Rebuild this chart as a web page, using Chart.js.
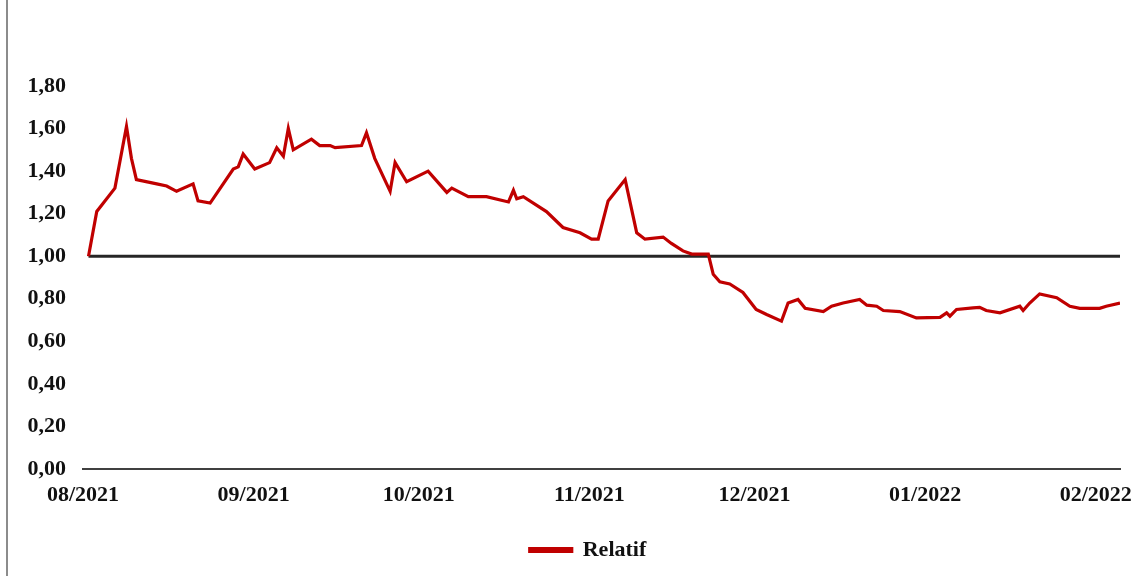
<!DOCTYPE html>
<html lang="fr">
<head>
  <meta charset="UTF-8">
  <title>Relatif</title>
  <script src="https://cdn.jsdelivr.net/npm/chart.js"></script>
  <style>
    html, body {
      margin: 0;
      padding: 0;
      background: #fff;
    }
    .frame {
      position: relative;
      width: 1141px;
      height: 576px;
    }
    .frame::before {
      content: "";
      position: absolute;
      left: 6px;
      top: 0;
      bottom: 0;
      border-left: 2px solid #8c8c8c;
    }
    canvas {
      position: absolute;
      left: 0;
      top: 0;
    }
  </style>
</head>
<body>
<div class="frame"><canvas id="chart" width="1141" height="576"></canvas></div>

<script>
// days counted from 01/08/2021
const days = [1, 2.5, 5.8, 7.9, 8.8, 9.7, 13.4, 15.2, 17.0, 20.0, 20.9, 23.1,
  27.3, 28.2, 29.1, 31.2, 33.9, 35.2, 36.4, 37.3, 38.2, 41.5, 43.0, 44.9,
  45.8, 50.6, 51.5, 53.0, 55.8, 56.7, 58.8, 62.7, 66.1, 67.0, 70.0, 73.3,
  77.3, 78.2, 78.8, 80.0, 84.2, 87.2, 90.3, 92.4, 93.6, 95.4, 98.5, 100.6,
  102.1, 105.4, 106.9, 109.0, 110.6, 113.6, 114.5, 115.7, 117.5, 119.9, 122.3, 124.2,
  126.9, 128.1, 129.9, 131.2, 134.5, 136.0, 138.1, 141.1, 142.4, 144.2, 145.4, 148.4,
  151.4, 155.7, 156.9, 157.5, 158.7, 161.7, 162.9, 164.1, 166.6, 170.2, 170.8, 172.0,
  173.8, 176.9, 179.3, 181.1, 184.7, 185.9, 188.4];

const relatif = [1.00, 1.21, 1.32, 1.61, 1.46, 1.36, 1.34, 1.33, 1.305, 1.34, 1.26, 1.25,
  1.41, 1.42, 1.48, 1.41, 1.44, 1.51, 1.47, 1.60, 1.50, 1.55, 1.52, 1.52,
  1.51, 1.52, 1.58, 1.46, 1.305, 1.44, 1.35, 1.40, 1.30, 1.32, 1.28, 1.28,
  1.255, 1.31, 1.27, 1.28, 1.21, 1.135, 1.11, 1.08, 1.08, 1.26, 1.36, 1.11,
  1.08, 1.09, 1.06, 1.025, 1.01, 1.01, 0.915, 0.88, 0.87, 0.83, 0.75, 0.726,
  0.695, 0.78, 0.797, 0.755, 0.74, 0.765, 0.78, 0.797, 0.77, 0.765, 0.745, 0.74,
  0.71, 0.713, 0.734, 0.718, 0.75, 0.757, 0.76, 0.745, 0.734, 0.765, 0.745, 0.78,
  0.823, 0.805, 0.765, 0.755, 0.755, 0.765, 0.78];

const refLevel = 1.00;

const monthTicks = [0, 31, 61, 92, 122, 153, 184];
const monthLabels = ["08/2021", "09/2021", "10/2021", "11/2021", "12/2021", "01/2022", "02/2022"];

const serif = "'Liberation Serif', 'Times New Roman', serif";
Chart.defaults.font.family = serif;
Chart.defaults.font.weight = "bold";
Chart.defaults.font.size = 22;
Chart.defaults.color = "#111";

const points = days.map((d, i) => ({ x: d, y: relatif[i] }));
const refPoints = [
  { x: days[0], y: refLevel },
  { x: days[days.length - 1], y: refLevel }
];

// legend sits a bit right of the canvas centre in the original
const shiftLegend = {
  id: "shiftLegend",
  afterLayout(chart) {
    chart.legend.left += 28;
    chart.legend.right += 28;
  }
};

new Chart(document.getElementById("chart"), {
  type: "line",
  data: {
    datasets: [
      {
        label: "Relatif",
        data: points,
        borderColor: "#c00000",
        backgroundColor: "#c00000",
        borderWidth: 3.2,
        pointRadius: 0,
        tension: 0
      },
      {
        label: "ref",
        data: refPoints,
        borderColor: "#262626",
        borderWidth: 3,
        pointRadius: 0
      }
    ]
  },
  plugins: [shiftLegend],
  options: {
    responsive: false,
    animation: false,
    layout: {
      padding: { left: 0, right: 21, top: 86, bottom: 5 }
    },
    plugins: {
      tooltip: { enabled: false },
      legend: {
        position: "bottom",
        labels: {
          filter: item => item.datasetIndex === 0,
          boxWidth: 42,
          boxHeight: 3,
          padding: 12,
          font: { size: 22, weight: "bold" }
        }
      }
    },
    scales: {
      x: {
        type: "linear",
        min: 0,
        max: days[days.length - 1],
        afterBuildTicks: axis => {
          axis.ticks = monthTicks.map(v => ({ value: v }));
        },
        afterFit: s => {
          s.height = 58;
          s.paddingLeft = 0;
          s.paddingRight = 0;
        },
        ticks: {
          autoSkip: false,
          maxRotation: 0,
          padding: 13,
          callback: (v) => monthLabels[monthTicks.indexOf(v)]
        },
        grid: { display: false, drawTicks: false },
        border: { color: "#404040", width: 2 }
      },
      y: {
        min: 0,
        max: 1.8,
        ticks: {
          stepSize: 0.2,
          padding: 17,
          callback: v => v.toFixed(2).replace(".", ",")
        },
        afterFit: s => { s.width = 83; },
        grid: { display: false, drawTicks: false },
        border: { display: false }
      }
    }
  }
});
</script>
</body>
</html>
